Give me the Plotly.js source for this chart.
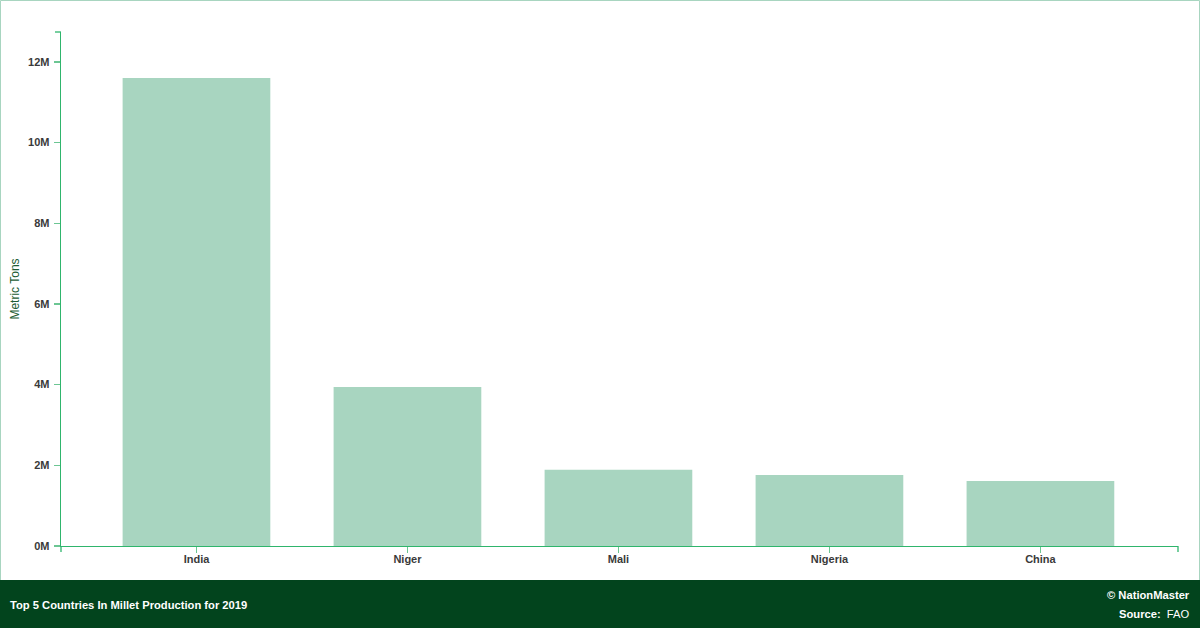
<!DOCTYPE html>
<html>
<head>
<meta charset="utf-8">
<script src="https://cdn.plot.ly/plotly-3.0.1.min.js"></script>
<style>
html,body{margin:0;padding:0;background:#fff;}
#chart{width:1200px;height:628px;}
</style>
</head>
<body>
<div id="chart"></div>
<script>
const countries = ["India", "Niger", "Mali", "Nigeria", "China"];
const production = [11600000, 3940000, 1890000, 1760000, 1610000];
const yTickValues = [0, 2000000, 4000000, 6000000, 8000000, 10000000, 12000000];
const yTickLabels = ["0M", "2M", "4M", "6M", "8M", "10M", "12M"];
const chartTitle = "Top 5 Countries In Millet Production for 2019";
const yAxisTitle = "Metric Tons";
const sourceName = "FAO";

const axisGreen = "#2fb56c";
const tickGreen = "#6cc693";
const footerGreen = "#02441d";
const FONT = "Liberation Sans, Arial, sans-serif";
const labelFont = {family: FONT, size: 11, color: "#3a3a3a", weight: 700};

// paper geometry helpers (plot area: x 61..1178, y 32..546)
const L = 61, R = 22, T = 32, B = 82, W = 1200, H = 628;
const pw = W - L - R, ph = H - T - B;
const px = v => (v - L) / pw;
const py = v => (H - B - v) / ph;

const trace = {
  type: "bar",
  x: countries,
  y: production,
  marker: {color: "#a8d5c0", line: {width: 0}},
  width: 0.7,
  hoverinfo: "x+y"
};

const layout = {
  width: W, height: H,
  margin: {l: L, r: R, t: T, b: B, pad: 0},
  paper_bgcolor: "#ffffff",
  plot_bgcolor: "#ffffff",
  showlegend: false,
  bargap: 0.3,
  xaxis: {
    type: "category",
    range: [-0.642, 4.652],
    showline: true, linecolor: axisGreen, linewidth: 1.3,
    ticks: "outside", ticklen: 6, tickcolor: tickGreen, tickwidth: 1.3,
    showgrid: false, zeroline: false,
    tickfont: labelFont,
    ticklabelstandoff: -4,
    fixedrange: true
  },
  yaxis: {
    range: [0, 12740000],
    tickvals: yTickValues, ticktext: yTickLabels,
    showline: true, linecolor: axisGreen, linewidth: 1.3,
    ticks: "outside", ticklen: 6, tickcolor: tickGreen, tickwidth: 1.3,
    showgrid: false, zeroline: false,
    tickfont: labelFont,
    ticklabelstandoff: 2,
    title: {text: yAxisTitle, font: {family: FONT, size: 12, color: "#1d5c34"}, standoff: 6},
    fixedrange: true
  },
  shapes: [
    {type: "rect", xref: "paper", yref: "paper", x0: px(0.5), x1: px(1199.5), y0: py(627.5), y1: py(0.5),
     line: {color: "#a8d5c0", width: 1}, fillcolor: "rgba(0,0,0,0)", layer: "below"},
    {type: "rect", xref: "paper", yref: "paper", x0: px(0), x1: px(1200), y0: py(628), y1: py(580),
     line: {width: 0}, fillcolor: footerGreen},
    {type: "line", xref: "paper", yref: "paper", x0: px(61), x1: px(61), y0: py(546), y1: py(552), line: {color: axisGreen, width: 1.3}},
    {type: "line", xref: "paper", yref: "paper", x0: px(1178), x1: px(1178), y0: py(546), y1: py(552), line: {color: axisGreen, width: 1.3}},
    {type: "line", xref: "paper", yref: "paper", x0: px(55), x1: px(61), y0: py(32), y1: py(32), line: {color: axisGreen, width: 1.3}}
  ],
  annotations: [
    {xref: "paper", yref: "paper", x: px(8), y: py(605), xanchor: "left", yanchor: "middle", showarrow: false,
     text: "<b>" + chartTitle + "</b>", font: {family: FONT, size: 11.2, color: "#ffffff"}},
    {xref: "paper", yref: "paper", x: px(1192), y: py(595), xanchor: "right", yanchor: "middle", showarrow: false,
     text: "<b>© NationMaster</b>", font: {family: FONT, size: 11.2, color: "#ffffff"}},
    {xref: "paper", yref: "paper", x: px(1192), y: py(614), xanchor: "right", yanchor: "middle", showarrow: false,
     text: "<b>Source:</b>  " + sourceName, font: {family: FONT, size: 11.2, color: "#ffffff"}}
  ]
};

Plotly.newPlot("chart", [trace], layout, {displayModeBar: false, staticPlot: true});
</script>
</body>
</html>
